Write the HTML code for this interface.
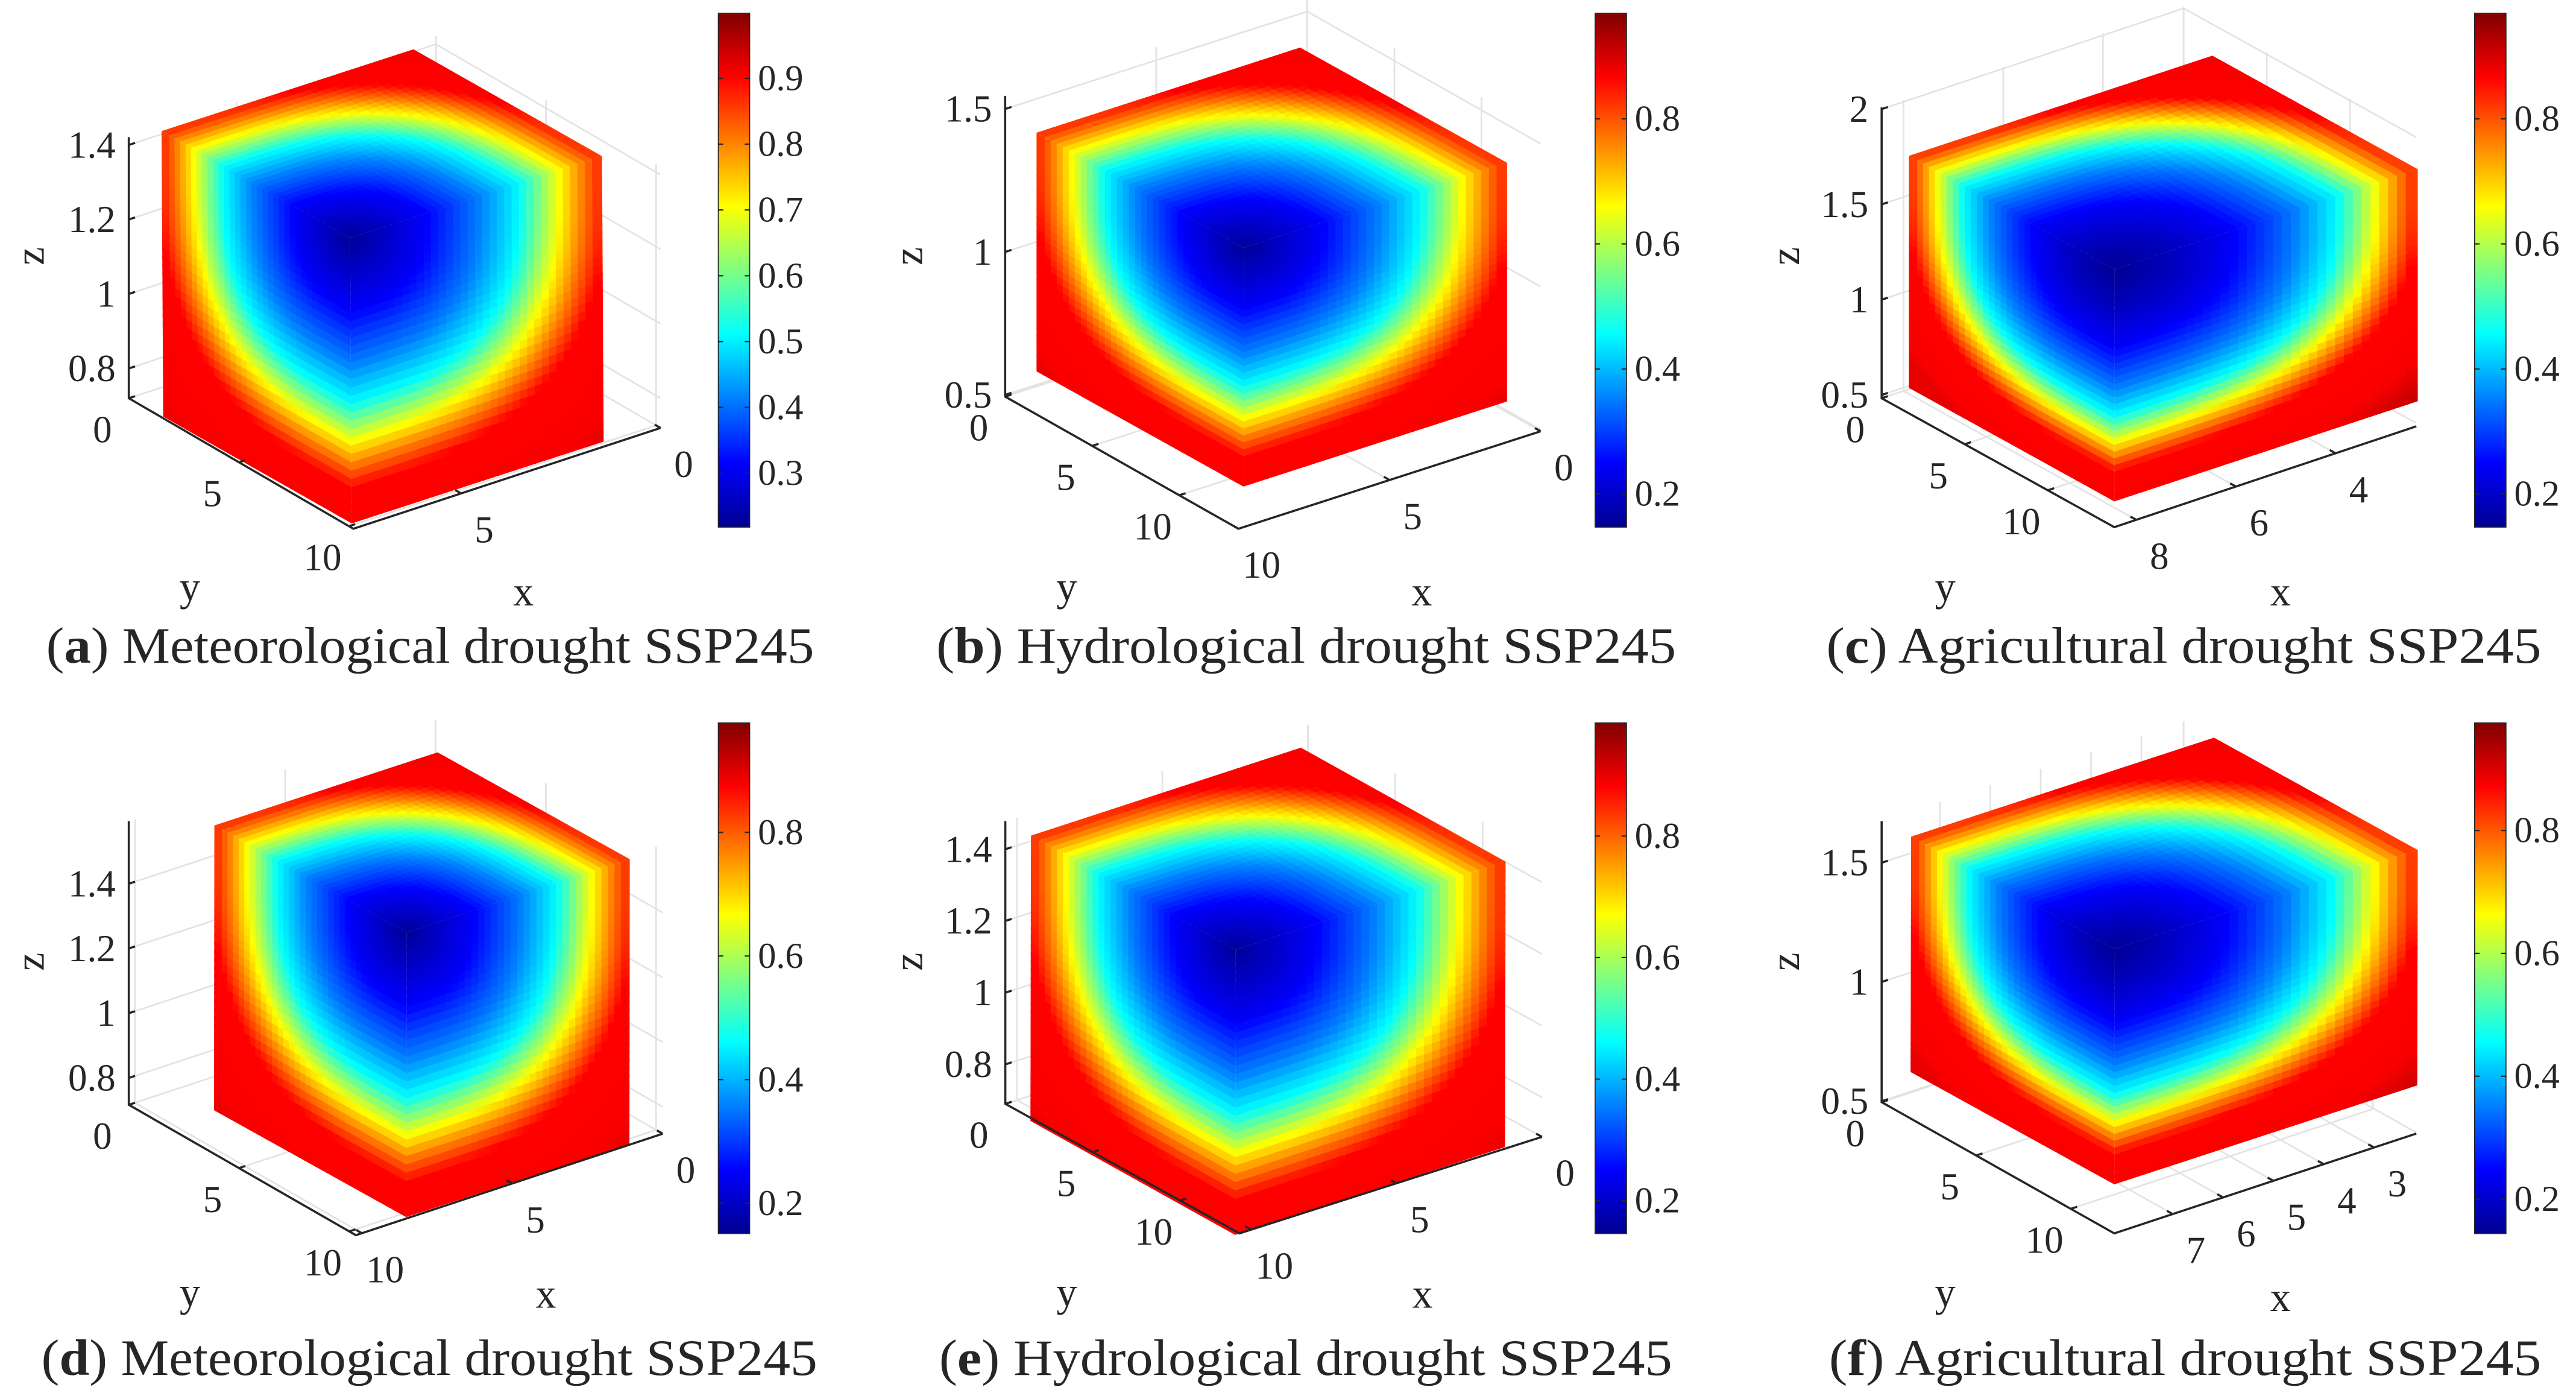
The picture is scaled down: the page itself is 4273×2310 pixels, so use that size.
<!DOCTYPE html>
<html><head><meta charset="utf-8"><title>Drought 3D cubes</title>
<style>
html,body{margin:0;padding:0;background:#fff;}
svg{display:block;}
text{font-family:"Liberation Serif",serif;fill:#262626;}
</style></head>
<body>
<svg id="chart" xmlns="http://www.w3.org/2000/svg" width="4273" height="2310" viewBox="0 0 1560 843" preserveAspectRatio="none">
<rect x="0" y="0" width="1560" height="843" fill="#fff"/>
</svg>
<script>
// ---------- data ----------
const panelIds = ['a','b','c','d','e','f'];
const captionTitles = ['Meteorological drought SSP245','Hydrological drought SSP245','Agricultural drought SSP245','Meteorological drought SSP245','Hydrological drought SSP245','Agricultural drought SSP245'];
const zTickValues = [[0.8,1,1.2,1.4],[0.5,1,1.5],[0.5,1,1.5,2],[0.8,1,1.2,1.4],[0.8,1,1.2,1.4],[0.5,1,1.5]];
const zLimits = [[0.72,1.421],[0.494,1.546],[0.483,2.009],[0.717,1.593],[0.69,1.478],[0.496,1.674]];
const yTickValues = [[0,5,10],[0,5,10],[0,5,10],[0,5,10],[0,5,10],[0,5,10]];
const yLimits = [[0,10.2],[0,13.4],[0,14],[0,10.3],[0,13.4],[0,12.3]];
const xTickValues = [[0,5],[0,5,10],[4,6,8],[0,5,10],[0,5,10],[3,4,5,6,7]];
const xLimits = [[7.7,0],[10,0],[8.44,2.38],[10.2,0],[10.4,0],[8.16,2.16]];
const cbTickValues = [[0.3,0.4,0.5,0.6,0.7,0.8,0.9],[0.2,0.4,0.6,0.8],[0.2,0.4,0.6,0.8],[0.2,0.4,0.6,0.8],[0.2,0.4,0.6,0.8],[0.2,0.4,0.6,0.8]];
const cbLimits = [[0.218,0.999],[0.147,0.969],[0.147,0.969],[0.151,0.977],[0.146,0.986],[0.144,0.975]];
// exponent >1 widens the low-value (blue) core while keeping edges red
const fieldSpread = [1.0,1.0,1.3,1.0,1.0,1.2];
// distance from the cube's front-top corner -> colormap fraction
const fieldDist = [0,0.3,0.52,0.68,0.76,0.84,0.93,1.03,1.3,1.75];
const fieldJet  = [0.01,0.12,0.25,0.375,0.5,0.625,0.75,0.875,0.88,1.0];
const jetStops = [0,0.125,0.375,0.5,0.625,0.875,1];
const jetColors = ['#00008f','#0000ff','#00ffff','#80ff80','#ffff00','#ff0000','#800000'];
const jetRGB = [[0,0,143],[0,0,255],[0,255,255],[128,255,128],[255,255,0],[255,0,0],[128,0,0]];

// ---------- layout (pixel geometry in 1560x843 space) ----------
const layout = [
 {C0:[78,241],zTop:83,Ey:[214,320],Ex:[400,259],F:[212,144],TL:[99,80],TR:[363,95],BF:[213,315],cb:[435,8,19,311],cap:[28,493],base:401,lz:[18,155],ly:[115,355],lx:[317,358]},
 {C0:[608.7,240],zTop:58,Ey:[750,320],Ex:[933,261],F:[753,150],TL:[629,81],TR:[911,99],BF:[753,293],cb:[966,8,19,311],cap:[567,1015],base:401,lz:[550,155],ly:[646,355],lx:[861,358]},
 {C0:[1139.5,241],zTop:65,Ey:[1280.4,319],Ex:[1463.3,258],F:[1280.4,163],TL:[1157.3,95],TR:[1462.3,103],BF:[1280.4,302],cb:[1498.6,8,19,311],cap:[1106,1539],base:401,lz:[1081,155],ly:[1178,355],lx:[1381,358]},
 {C0:[78,668.6],zTop:497,Ey:[215.5,747.5],Ex:[401.3,686.1],F:[246.2,564.2],TL:[131,500.2],TR:[380,520.4],BF:[246,734.8],cb:[435,437.5,19,309],cap:[25,495],base:832,lz:[18,582],ly:[115,782],lx:[330.6,783]},
 {C0:[608.8,668],zTop:497,Ey:[750.6,746.4],Ex:[933.8,688],F:[748.3,574.7],TL:[625.6,506.4],TR:[910.1,522],BF:[748,745.6],cb:[966,437.5,19,309],cap:[568.7,1012.7],base:832,lz:[550,582],ly:[646,782],lx:[861.4,783]},
 {C0:[1139.5,667],zTop:497,Ey:[1280.4,746.4],Ex:[1463.3,686],F:[1280.7,574.3],TL:[1158.6,507],TR:[1462.3,515],BF:[1280.4,715.3],cb:[1498.6,437.5,19,309],cap:[1107.6,1539],base:832,lz:[1081,582],ly:[1178,782],lx:[1381,785]}
];

const NS = 'http://www.w3.org/2000/svg';
const svg = document.getElementById('chart');
function mk(tag, attrs, parent){
  const e = document.createElementNS(NS, tag);
  for (const k in attrs) e.setAttribute(k, attrs[k]);
  (parent || svg).appendChild(e);
  return e;
}
const defs = mk('defs', {});
const jet = mk('linearGradient', {id:'jet', x1:0, y1:1, x2:0, y2:0}, defs);
jetStops.forEach((o,i)=>{ mk('stop',{offset:o,'stop-color':jetColors[i]},jet); });

function add(p,q,s){ return [p[0]+q[0]*s, p[1]+q[1]*s]; }
function sub(p,q){ return [p[0]-q[0], p[1]-q[1]]; }
function interp(xs, ys, x){
  if (x <= xs[0]) return ys[0];
  for (let k=1;k<xs.length;k++){ if (x <= xs[k]) { const t=(x-xs[k-1])/(xs[k]-xs[k-1]); return ys[k-1]+t*(ys[k]-ys[k-1]); } }
  return ys[ys.length-1];
}
function jetColor(f){
  f = Math.max(0, Math.min(1, f));
  let k = 1; while (k < jetStops.length-1 && f > jetStops[k]) k++;
  const t = (f - jetStops[k-1])/(jetStops[k]-jetStops[k-1]);
  const a = jetRGB[k-1], b = jetRGB[k];
  return 'rgb(' + [0,1,2].map(c=>Math.round(a[c]+t*(b[c]-a[c]))).join(',') + ')';
}

const N = 34;
panelIds.forEach((id, i) => {
  const L = layout[i];
  const g = mk('g', {});
  
  
  const C0 = L.C0;
  const Zv = [0, L.zTop - C0[1]];
  const Yv = sub(L.Ey, C0);
  const Xv = sub(L.Ex, L.Ey);
  const zf = v => (v - zLimits[i][0]) / (zLimits[i][1] - zLimits[i][0]);
  const yf = v => (v - yLimits[i][0]) / (yLimits[i][1] - yLimits[i][0]);
  const xf = v => (xLimits[i][0] - v) / (xLimits[i][0] - xLimits[i][1]);

  // grid
  const grid = mk('g', {stroke:'#e3e3e3','stroke-width':1,fill:'none'}, g);
  
  
  const back = add(C0, Xv, 1);
  const line = (p,q,par) => mk('line',{x1:p[0],y1:p[1],x2:q[0],y2:q[1]},par);
  line(back, add(back, Zv, 1), grid);
  zTickValues[i].forEach(v => {
    const p = add(C0, Zv, zf(v));
    const b = add(p, Xv, 1);
    line(p, b, grid);
    line(b, add(b, Yv, 1), grid);
  });
  xTickValues[i].forEach(v => {
    const p = add(C0, Xv, xf(v));
    line(p, add(p, Yv, 1), grid);
    line(p, add(p, Zv, 1), grid);
  });
  yTickValues[i].forEach(v => {
    const p = add(C0, Yv, yf(v));
    line(p, add(p, Xv, 1), grid);
    const q = add(back, Yv, yf(v));
    line(q, add(q, Zv, 1), grid);
  });

  // cube faces (faceted surface cells)
  const faces = [
    {name:'top', e1:sub(L.TL,L.F), e2:sub(L.TR,L.F), s1:1.0, s2:1.0, cap:0.9},
    {name:'left', e1:sub(L.TL,L.F), e2:sub(L.BF,L.F), s1:1.0, s2:1.16, cap:0.9},
    {name:'right', e1:sub(L.TR,L.F), e2:sub(L.BF,L.F), s1:1.0, s2:1.16, cap:1.0}
  ];
  faces.forEach(fc => {
    const fg = mk('g', {transform:`matrix(${fc.e1[0]},${fc.e1[1]},${fc.e2[0]},${fc.e2[1]},${L.F[0]},${L.F[1]})`}, g);
    
    
    const w = 1/N;
    for (let a=0;a<N;a++){
      for (let b=0;b<N;b++){
        const u = (a+0.5)*w*fc.s1, v = (b+0.5)*w*fc.s2;
        const p = 3;
        const d0 = Math.pow(Math.pow(u,p)+Math.pow(v,p),1/p);
        const d = Math.pow(d0, fieldSpread[i]);
        let j = interp(fieldDist, fieldJet, d);
        j = Math.min(j, fc.cap);
        mk('rect', {x:a*w, y:b*w, width:w*1.35, height:w*1.35, fill:jetColor(j)}, fg);
      }
    }
  });

  // axes
  const ax = mk('polyline', {points:`${C0[0]},${L.zTop} ${C0[0]},${C0[1]} ${L.Ey[0]},${L.Ey[1]} ${L.Ex[0]},${L.Ex[1]}`, fill:'none', stroke:'#262626','stroke-width':1.3}, g);
  
  
  const xn = Math.hypot(Xv[0],Xv[1]), yn = Math.hypot(Yv[0],Yv[1]);
  const ux = [Xv[0]/xn*4, Xv[1]/xn*4], uy = [-Yv[0]/yn*4, -Yv[1]/yn*4];
  zTickValues[i].forEach(v => {
    const p = add(C0, Zv, zf(v));
    mk('line', {x1:p[0],y1:p[1],x2:p[0]+ux[0],y2:p[1]+ux[1],stroke:'#262626','stroke-width':1.3}, g);
    const t = mk('text', {x:C0[0]-8, y:p[1], 'text-anchor':'end', 'dominant-baseline':'central', 'font-size':23}, g);
    t.textContent = String(v);
    
    
  });
  yTickValues[i].forEach(v => {
    const p = add(C0, Yv, yf(v));
    mk('line', {x1:p[0],y1:p[1],x2:p[0]+ux[0],y2:p[1]+ux[1],stroke:'#262626','stroke-width':1.3}, g);
    const t = mk('text', {x:p[0]-16, y:p[1]+19, 'text-anchor':'middle', 'dominant-baseline':'central', 'font-size':23}, g);
    t.textContent = String(v);
    
    
  });
  xTickValues[i].forEach(v => {
    const p = add(L.Ey, Xv, xf(v));
    mk('line', {x1:p[0],y1:p[1],x2:p[0]+uy[0],y2:p[1]+uy[1],stroke:'#262626','stroke-width':1.3}, g);
    const t = mk('text', {x:p[0]+14, y:p[1]+22, 'text-anchor':'middle', 'dominant-baseline':'central', 'font-size':23}, g);
    t.textContent = String(v);
    
    
  });
  const lz = mk('text', {x:L.lz[0], y:L.lz[1], 'text-anchor':'middle', 'dominant-baseline':'central', 'font-size':25, transform:`rotate(-90 ${L.lz[0]} ${L.lz[1]})`}, g);
  lz.textContent = 'z';
  
  
  const ly = mk('text', {x:L.ly[0], y:L.ly[1], 'text-anchor':'middle', 'dominant-baseline':'central', 'font-size':25}, g);
  ly.textContent = 'y';
  
  
  const lx = mk('text', {x:L.lx[0], y:L.lx[1], 'text-anchor':'middle', 'dominant-baseline':'central', 'font-size':25}, g);
  lx.textContent = 'x';
  
  

  // colorbar
  const cb = L.cb;
  const cbr = mk('rect', {x:cb[0], y:cb[1], width:cb[2], height:cb[3], fill:'url(#jet)', stroke:'#262626','stroke-width':0.6}, g);
  
  
  const cy = v => cb[1] + cb[3] * (1 - (v - cbLimits[i][0]) / (cbLimits[i][1] - cbLimits[i][0]));
  cbTickValues[i].forEach(v => {
    const y = cy(v);
    mk('line', {x1:cb[0]+cb[2]-3, y1:y, x2:cb[0]+cb[2], y2:y, stroke:'#262626','stroke-width':0.8}, g);
    mk('line', {x1:cb[0], y1:y, x2:cb[0]+3, y2:y, stroke:'#262626','stroke-width':0.8}, g);
    const t = mk('text', {x:cb[0]+cb[2]+5, y:y, 'dominant-baseline':'central', 'font-size':22}, g);
    t.textContent = v.toFixed(1);
    
    
  });

  // caption
  const cap = mk('text', {x:L.cap[0], y:L.base, 'font-size':31, textLength:L.cap[1]-L.cap[0], lengthAdjust:'spacingAndGlyphs', fill:'#000'}, g);
  
  
  const t1 = mk('tspan', {}, cap); t1.textContent = '(';
  const t2 = mk('tspan', {'font-weight':'bold'}, cap); t2.textContent = id;
  const t3 = mk('tspan', {}, cap); t3.textContent = ') ' + captionTitles[i];
});
</script>
</body></html>
